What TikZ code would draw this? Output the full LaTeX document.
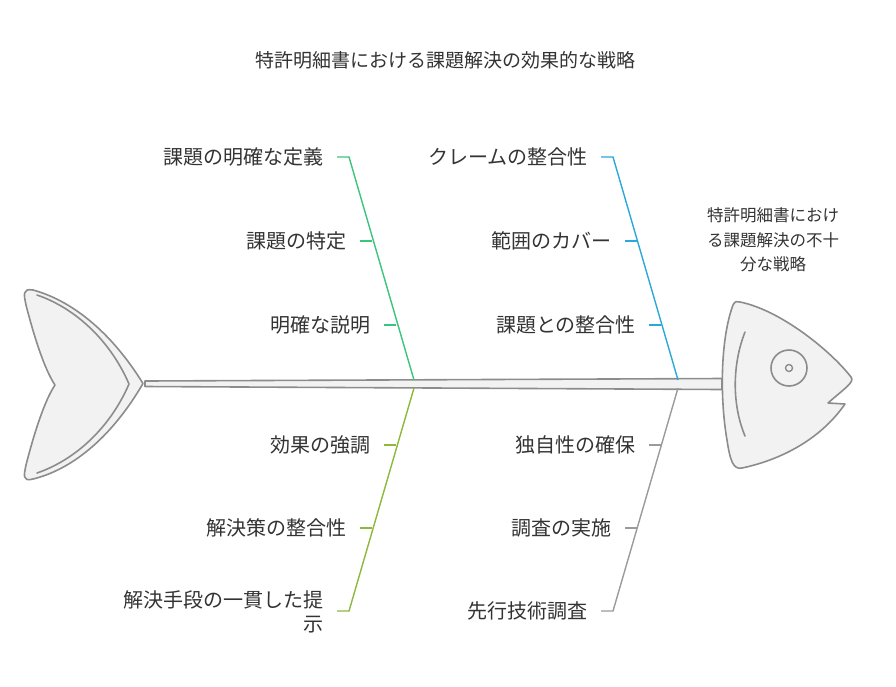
\documentclass[tikz,border=0pt]{standalone}
\usepackage{fontspec}
\setmainfont{Noto Sans CJK JP}
\begin{document}
\begin{tikzpicture}[x=1pt,y=-1pt,
  fishline/.style={draw=black!45,line width=1.6pt,line join=round,line cap=round},
  lbl/.style={font=\fontsize{20}{24}\selectfont,text=black!80,inner sep=0pt},
  bone/.style={line width=1.4pt}]
\useasboundingbox (0,0) rectangle (896,686);
\definecolor{cga}{HTML}{3CC47C}
\definecolor{cbl}{HTML}{2BA8D9}
\definecolor{col}{HTML}{8DB83C}
\definecolor{cgr}{HTML}{9A9A9A}
\node[lbl,font=\fontsize{19}{24}\selectfont] (title) at (445,60) {特許明細書における課題解決の効果的な戦略};
% spine
\draw[fishline,fill=black!5] (145,381) -- (722,378.5) -- (722,389.5) -- (145,386.5) -- cycle;
% tail
\draw[fishline,fill=black!5] (143,383.5) .. controls (110,330) and (70,300) .. (33,290)
  .. controls (22,288) and (24,295) .. (26,305)
  .. controls (35,340) and (45,370) .. (55,385)
  .. controls (45,400) and (35,430) .. (26,465)
  .. controls (24,475) and (22,482) .. (33,479)
  .. controls (70,470) and (110,440) .. cycle;
\draw[fishline] (37,295) .. controls (75,308) and (110,340) .. (129,384) .. controls (110,428) and (75,460) .. (37,473);
% head
\draw[fishline,fill=black!5] (740,302) .. controls (780,310) and (830,350) .. (851,377)
  .. controls (855,382) and (845,388) .. (828,403) -- (845,404)
  .. controls (820,440) and (780,460) .. (742,468)
  .. controls (733,470) and (730,460) .. (727,440)
  .. controls (720,400) and (720,340) .. (733,305)
  .. controls (735,301) and (737,301) .. cycle;
\draw[fishline] (745,332) .. controls (732,365) and (732,405) .. (745,436);
\node[circle,draw=black!45,line width=1.6pt,minimum size=36pt,inner sep=0pt] (eye) at (789,368) {};
\node[circle,draw=black!45,line width=1.4pt,minimum size=7pt,inner sep=0pt] (pupil) at (789,368) {};
\node[lbl,font=\fontsize{16.5}{24.5}\selectfont,align=center] (head) at (773,240) {特許明細書におけ\\る課題解決の不十\\分な戦略};
% bones
\coordinate (g0) at (414,380); \coordinate (g1) at (349,157);
\coordinate (b0) at (678,380); \coordinate (b1) at (613,157);
\coordinate (o0) at (414,388); \coordinate (o1) at (349,611);
\coordinate (r0) at (678,388); \coordinate (r1) at (613,611);
\draw[bone,cga] (g0) -- (g1) -- (337,157);
\draw[bone,cbl] (b0) -- (b1) -- (601,157);
\draw[bone,col] (o0) -- (o1) -- (337,611);
\draw[bone,cgr] (r0) -- (r1) -- (601,611);
\draw[bone,cga] (360,241) -- (372,241); \draw[bone,cga] (384,325) -- (396,325);
\draw[bone,cbl] (625,241) -- (637,241); \draw[bone,cbl] (649,325) -- (661,325);
\draw[bone,col] (384,445) -- (396,445); \draw[bone,col] (360,528) -- (372,528);
\draw[bone,cgr] (649,445) -- (661,445); \draw[bone,cgr] (625,528) -- (637,528);
% labels
\node[lbl,anchor=east] (l1) at (324,157) {課題の明確な定義};
\node[lbl,anchor=east] (l2) at (347,241) {課題の特定};
\node[lbl,anchor=east] (l3) at (371,325) {明確な説明};
\node[lbl,anchor=east] (l4) at (588,157) {クレームの整合性};
\node[lbl,anchor=east] (l5) at (612,241) {範囲のカバー};
\node[lbl,anchor=east] (l6) at (636,325) {課題との整合性};
\node[lbl,anchor=east] (l7) at (371,445) {効果の強調};
\node[lbl,anchor=east] (l8) at (347,528) {解決策の整合性};
\node[lbl,anchor=east,align=right] (l9) at (324,612) {解決手段の一貫した提\\示};
\node[lbl,anchor=east] (l10) at (636,445) {独自性の確保};
\node[lbl,anchor=east] (l11) at (612,528) {調査の実施};
\node[lbl,anchor=east] (l12) at (588,611) {先行技術調査};
\end{tikzpicture}
\end{document}
